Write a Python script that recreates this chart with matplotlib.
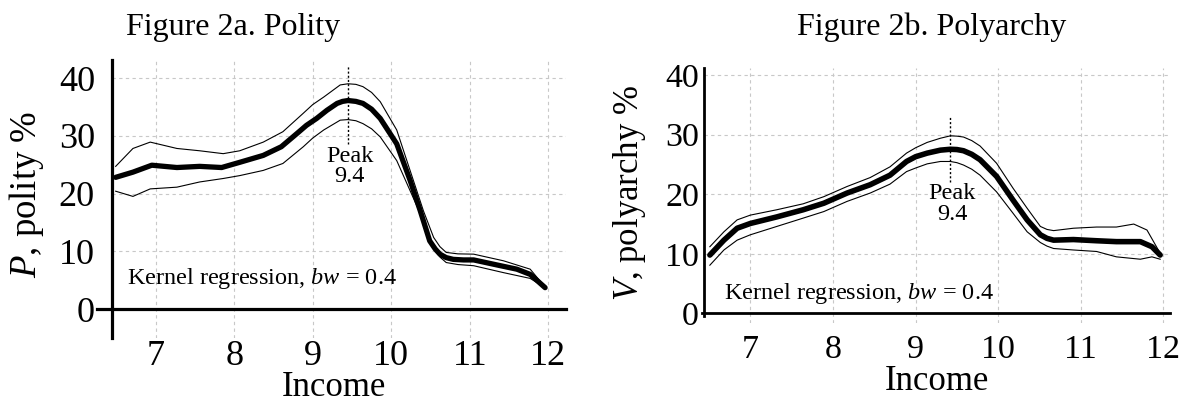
import matplotlib
matplotlib.use("Agg")
import matplotlib.pyplot as plt

plt.rcParams['font.family'] = ['Liberation Serif', 'DejaVu Serif']
plt.rcParams['mathtext.fontset'] = 'custom'
plt.rcParams['mathtext.rm'] = 'Liberation Serif'
plt.rcParams['mathtext.it'] = 'Liberation Serif:italic'

# ---------------- Data: Figure 2a (Polity) ----------------
pol_mean_x = [6.49, 6.71, 6.95, 7.27, 7.56, 7.84, 8.07, 8.37, 8.60, 8.80, 8.92, 9.05, 9.18, 9.31,
              9.38, 9.45, 9.55, 9.64, 9.75, 9.86, 10.07, 10.24, 10.37, 10.49, 10.56, 10.62, 10.70,
              10.79, 10.92, 11.05, 11.34, 11.60, 11.77, 11.96]
pol_mean_y = [22.8, 23.7, 24.9, 24.5, 24.7, 24.5, 25.4, 26.6, 28.1, 30.4, 31.8, 33.0, 34.4, 35.6,
              35.95, 36.1, 35.95, 35.6, 34.6, 33.0, 28.6, 22.3, 17.0, 11.8, 10.4, 9.5, 8.9,
              8.6, 8.5, 8.5, 7.65, 6.9, 6.0, 3.7]
pol_band_x = [6.49, 6.71, 6.93, 7.27, 7.56, 7.86, 8.07, 8.37, 8.62, 8.88, 9.00, 9.14, 9.35, 9.45,
              9.55, 9.64, 9.75, 9.86, 10.07, 10.24, 10.41, 10.54, 10.62, 10.70, 10.85, 11.05,
              11.43, 11.77, 11.96]
pol_upper = [24.7, 27.8, 28.9, 27.8, 27.4, 26.9, 27.4, 28.9, 30.7, 33.9, 35.4, 36.7, 38.8, 39.0,
             38.9, 38.5, 37.5, 35.9, 31.0, 24.0, 17.0, 12.4, 10.8, 9.8, 9.55, 9.5,
             8.35, 6.9, 3.8]
pol_lower = [20.4, 19.5, 20.8, 21.1, 22.0, 22.6, 23.1, 24.0, 25.2, 28.1, 29.6, 31.0, 32.7, 32.8,
             32.6, 32.1, 31.2, 29.8, 25.7, 20.5, 15.3, 10.7, 9.0, 8.05, 7.7, 7.5,
             6.3, 5.3, 3.7]
pol_peak = 9.45

# ---------------- Data: Figure 2b (Polyarchy) ----------------
pa_x = [6.51, 6.68, 6.84, 7.00, 7.32, 7.64, 7.89, 8.17, 8.45, 8.69, 8.89, 9.00, 9.14, 9.30,
        9.42, 9.50, 9.58, 9.68, 9.78, 9.98, 10.18, 10.35, 10.51, 10.59, 10.67, 10.91, 11.19,
        11.43, 11.72, 11.86, 11.96]
pa_mean = [9.8, 12.3, 14.3, 15.1, 16.2, 17.4, 18.5, 20.2, 21.6, 23.2, 25.5, 26.3, 26.9, 27.4,
           27.55, 27.5, 27.3, 26.7, 25.8, 23.0, 19.0, 15.7, 13.2, 12.6, 12.3, 12.4, 12.2,
           12.05, 12.05, 11.2, 9.8]
pa_lower = [8.1, 10.65, 12.3, 13.2, 14.6, 16.0, 17.1, 18.8, 20.2, 21.7, 23.8, 24.4, 25.1, 25.5,
            25.5, 25.3, 24.9, 24.2, 23.2, 20.4, 16.8, 13.7, 11.9, 11.3, 10.9, 10.65, 10.4,
            9.5, 9.1, 9.5, 9.1]
pa_upper_x = [6.51, 6.68, 6.84, 7.00, 7.32, 7.64, 7.89, 8.17, 8.45, 8.69, 8.89, 9.00, 9.14, 9.30,
              9.42, 9.50, 9.58, 9.68, 9.78, 9.98, 10.18, 10.35, 10.51, 10.59, 10.67, 10.91, 11.19,
              11.43, 11.64, 11.80, 11.96]
pa_upper = [11.2, 13.7, 15.7, 16.5, 17.4, 18.4, 19.6, 21.3, 22.8, 24.6, 26.9, 27.8, 28.7, 29.4,
            29.8, 29.75, 29.6, 29.0, 28.1, 25.2, 21.0, 17.65, 14.6, 14.1, 13.9, 14.3, 14.5,
            14.5, 15.0, 14.0, 10.1]
pa_peak = 9.42

x_ticks = [7, 8, 9, 10, 11, 12]
y_ticks = [0, 10, 20, 30, 40]

W, H = 1186, 407
fig = plt.figure(figsize=(W / 100, H / 100), dpi=100)


def px_axes(x0, y0, x1, y1):
    """x0,y0 top-left; x1,y1 bottom-right in pixels"""
    return fig.add_axes([x0 / W, 1 - y1 / H, (x1 - x0) / W, (y1 - y0) / H])


def style(ax, xlim, ylim, yaxis_x, yspine_bounds, tick_fs, xpad, ypad, spine_lw):
    ax.set_xlim(*xlim)
    ax.set_ylim(*ylim)
    for s in ['top', 'right']:
        ax.spines[s].set_visible(False)
    ax.spines['left'].set_position(('data', yaxis_x))
    ax.spines['bottom'].set_position(('data', 0))
    ax.spines['left'].set_bounds(*yspine_bounds)
    ax.spines['left'].set_linewidth(spine_lw)
    ax.spines['bottom'].set_linewidth(spine_lw)
    ax.set_xticks(x_ticks)
    ax.set_yticks(y_ticks)
    ax.tick_params(axis='both', length=0, labelsize=tick_fs)
    ax.tick_params(axis='x', pad=xpad)
    ax.tick_params(axis='y', pad=ypad)
    for xt in x_ticks:
        ax.axvline(xt, color='#c8c8c8', lw=0.8, ls=(0, (3, 3)), zorder=0)
    ax.hlines(y_ticks[1:], yaxis_x, xlim[1], color='#c8c8c8', lw=0.8, ls=(0, (3, 3)), zorder=0)


# ---------- Left panel ----------
axL = px_axes(97.3, 60.1, 566.3, 337.9)
style(axL, (6.256, 12.23), (-5.0, 43.1), 6.447, (-5.0, 43.1), 26, 22.5, 12.5, 2.3)
axL.plot(pol_band_x, pol_upper, color='black', lw=0.8, zorder=3)
axL.plot(pol_band_x, pol_lower, color='black', lw=0.8, zorder=3)
axL.plot(pol_mean_x, pol_mean_y, color='black', lw=3.8, solid_joinstyle='round',
         solid_capstyle='round', zorder=4)
axL.plot([pol_peak, pol_peak], [28.6, 42.0], color='black', lw=1.0, ls=(0, (1.5, 1.5)), zorder=5)
axL.text(9.47, 24.7, 'Peak\n9.4', ha='center', va='center', fontsize=17.5, linespacing=0.95)
axL.text(6.64, 5.2, r'Kernel regression, $bw$ = 0.4', ha='left', va='center', fontsize=17.5)
axL.set_ylabel(r'$P$, polity %', fontsize=26.5)
axL.yaxis.set_label_coords(27 / W, 1 - 194 / H, transform=fig.transFigure)
axL.set_xlabel('Income', fontsize=25)
axL.xaxis.set_label_coords(334 / W, 1 - 388 / H, transform=fig.transFigure)
axL.xaxis.label.set_va('center')
axL.yaxis.label.set_va('center')

# ---------- Right panel ----------
axR = px_axes(701.6, 67.9, 1170.1, 323.0)
style(axR, (6.41, 12.08), (-1.6, 41.2), 6.44, (-0.5, 41.2), 24.5, 15.5, 3.7, 2.0)
axR.plot(pa_upper_x, pa_upper, color='black', lw=0.8, zorder=3)
axR.plot(pa_x, pa_lower, color='black', lw=0.8, zorder=3)
axR.plot(pa_x, pa_mean, color='black', lw=4.0, solid_joinstyle='round',
         solid_capstyle='round', zorder=4)
axR.plot([pa_peak, pa_peak], [22.1, 33.0], color='black', lw=1.0, ls=(0, (1.5, 1.5)), zorder=5)
axR.text(9.44, 18.35, 'Peak\n9.4', ha='center', va='center', fontsize=17.5, linespacing=0.95)
axR.text(6.68, 3.4, r'Kernel regression, $bw$ = 0.4', ha='left', va='center', fontsize=17.5)
axR.set_ylabel(r'$V$, polyarchy %', fontsize=25)
axR.yaxis.set_label_coords(629 / W, 1 - 193 / H, transform=fig.transFigure)
axR.set_xlabel('Income', fontsize=25)
axR.xaxis.set_label_coords(937 / W, 1 - 382 / H, transform=fig.transFigure)
axR.xaxis.label.set_va('center')
axR.yaxis.label.set_va('center')

fig.text(233 / W, 1 - 27 / H, 'Figure 2a. Polity', ha='center', va='center', fontsize=23)
fig.text(932 / W, 1 - 27 / H, 'Figure 2b. Polyarchy', ha='center', va='center', fontsize=23)

fig.savefig('out.png', dpi=100)
